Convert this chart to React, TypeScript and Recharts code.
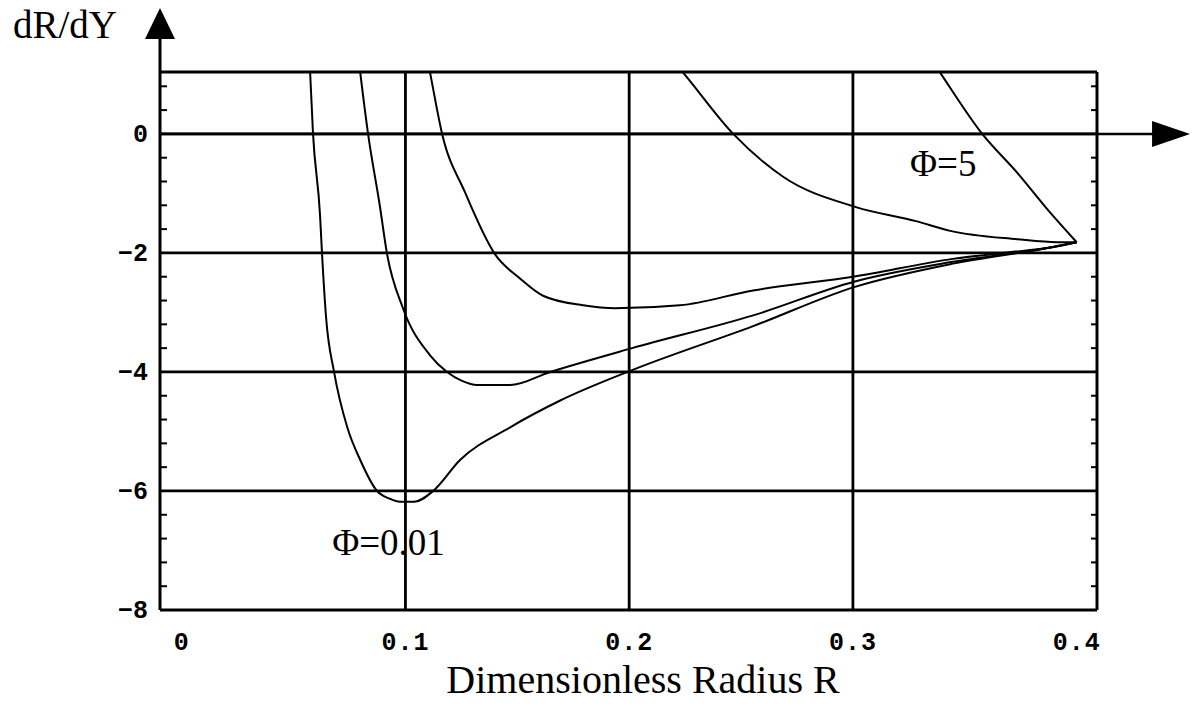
import React from 'react'
import { LineChart, Line, XAxis, YAxis, CartesianGrid, ReferenceLine, ReferenceDot } from 'recharts'

type Pt = { x: number; y: number }

// axis setup
const xDomain: [number, number] = [-0.0097, 0.4091]
const yDomain: [number, number] = [-8, 1.04]
const xTicks = [0, 0.1, 0.2, 0.3, 0.4]
const yTicks = [-8, -6, -4, -2, 0]
const xGridLines = [0.1, 0.2, 0.3]
const yGridLines = [-6, -4, -2, 0]
const xMinorTicks = [0, 0.02, 0.04, 0.06, 0.08, 0.1, 0.12, 0.14, 0.16, 0.18, 0.2, 0.22, 0.24, 0.26, 0.28, 0.3, 0.32, 0.34, 0.36, 0.38, 0.4]
const yMinorTicks = [-8, -7.6, -7.2, -6.8, -6.4, -6, -5.6, -5.2, -4.8, -4.4, -4, -3.6, -3.2, -2.8, -2.4, -2, -1.6, -1.2, -0.8, -0.4, 0, 0.4, 0.8]

// curves, left to right (Φ=0.01 is the deepest one)
const curvePhi001: Pt[] = [
  { x: 0.0565, y: 1.6 }, { x: 0.0574, y: 1.03 }, { x: 0.0587, y: 0 }, { x: 0.0618, y: -1.35 },
  { x: 0.0627, y: -2 }, { x: 0.0645, y: -3.07 }, { x: 0.0681, y: -4 }, { x: 0.074, y: -4.93 },
  { x: 0.0798, y: -5.48 }, { x: 0.0873, y: -6 }, { x: 0.093, y: -6.13 }, { x: 0.0975, y: -6.18 },
  { x: 0.104, y: -6.18 }, { x: 0.1124, y: -6 }, { x: 0.1244, y: -5.48 }, { x: 0.1468, y: -4.93 },
  { x: 0.1692, y: -4.48 }, { x: 0.2013, y: -3.97 }, { x: 0.2554, y: -3.23 }, { x: 0.3009, y: -2.57 },
  { x: 0.3447, y: -2.18 }, { x: 0.3895, y: -1.9 }, { x: 0.4, y: -1.82 },
]
const curveB: Pt[] = [
  { x: 0.078, y: 1.6 }, { x: 0.0798, y: 1.03 }, { x: 0.0833, y: 0 }, { x: 0.0886, y: -1.22 },
  { x: 0.0917, y: -2 }, { x: 0.0989, y: -2.93 }, { x: 0.111, y: -3.72 }, { x: 0.1186, y: -4 },
  { x: 0.1253, y: -4.15 }, { x: 0.132, y: -4.22 }, { x: 0.1468, y: -4.22 }, { x: 0.1647, y: -4 },
  { x: 0.2013, y: -3.6 }, { x: 0.2554, y: -3.05 }, { x: 0.3009, y: -2.48 }, { x: 0.3447, y: -2.15 },
  { x: 0.3895, y: -1.9 }, { x: 0.4, y: -1.82 },
]
const curveC: Pt[] = [
  { x: 0.108, y: 1.6 }, { x: 0.111, y: 1.03 }, { x: 0.1164, y: 0 }, { x: 0.1266, y: -0.98 },
  { x: 0.14, y: -2.02 }, { x: 0.1512, y: -2.43 }, { x: 0.1615, y: -2.72 }, { x: 0.1794, y: -2.88 },
  { x: 0.1937, y: -2.93 }, { x: 0.2227, y: -2.88 }, { x: 0.2554, y: -2.63 }, { x: 0.3001, y: -2.4 },
  { x: 0.3447, y: -2.1 }, { x: 0.3747, y: -1.97 }, { x: 0.3895, y: -1.9 }, { x: 0.4, y: -1.82 },
]
const curveD: Pt[] = [
  { x: 0.211, y: 1.6 }, { x: 0.2241, y: 1.03 }, { x: 0.2465, y: 0 },
  { x: 0.2688, y: -0.72 }, { x: 0.3014, y: -1.23 }, { x: 0.3287, y: -1.47 }, { x: 0.3435, y: -1.63 },
  { x: 0.3734, y: -1.77 }, { x: 0.3913, y: -1.82 }, { x: 0.4, y: -1.82 },
]
const curvePhi5: Pt[] = [
  { x: 0.329, y: 1.6 }, { x: 0.339, y: 1.03 }, { x: 0.3578, y: 0 }, { x: 0.3734, y: -0.65 },
  { x: 0.3881, y: -1.32 }, { x: 0.4, y: -1.82 },
]
const curves = [curvePhi001, curveB, curveC, curveD, curvePhi5]

const serif = '"Liberation Serif", "Times New Roman", serif'
const mono = '"Liberation Mono", "DejaVu Sans Mono", monospace'
const fmtY = (v: number) => (v < 0 ? '\u2212' + Math.abs(v) : String(v))
const noLabel = () => <g />
const frameLine = { stroke: '#000', strokeWidth: 3 }
const minorTick = { stroke: '#000', strokeWidth: 2 }

const XTick = (p: any) => (
  <text x={p.x} y={p.y + 15} textAnchor="middle" fontFamily={mono} fontWeight={700} fontSize={25}
    letterSpacing={1} fill="#000">{String(p.payload.value)}</text>
)
const YTick = (p: any) => (
  <text x={p.x} y={p.y + 8} textAnchor="end" fontFamily={mono} fontWeight={700} fontSize={25}
    fill="#000">{fmtY(p.payload.value)}</text>
)

const ArrowRight = (p: any) => {
  const { x1, y1, x2, y2 } = p
  return (
    <g>
      <line x1={x1} y1={y1} x2={x2 - 30} y2={y2} stroke="#000" strokeWidth={2.5} />
      <polygon points={`${x2},${y2} ${x2 - 38},${y2 - 13} ${x2 - 38},${y2 + 13}`} fill="#000" />
    </g>
  )
}
const ArrowUp = (p: any) => {
  const { x1, y1, x2, y2 } = p
  return (
    <g>
      <line x1={x1} y1={y1} x2={x2} y2={y2 + 25} stroke="#000" strokeWidth={3} />
      <polygon points={`${x2},${y2} ${x2 - 15},${y2 + 31} ${x2 + 15},${y2 + 31}`} fill="#000" />
    </g>
  )
}

export default function App() {
  return (
    <div style={{ position: 'absolute', left: 0, top: 0, width: 1192, height: 724, background: '#fff' }}>
      <LineChart width={1192} height={724} margin={{ top: 72, right: 95, bottom: 0, left: 100 }}>
        <CartesianGrid stroke="#000" strokeWidth={2.8} horizontalValues={yGridLines} verticalValues={xGridLines} />
        <XAxis dataKey="x" type="number" domain={xDomain} allowDataOverflow ticks={xTicks} interval={0}
          tickLine={false} axisLine={false} height={114} tickMargin={19} tick={XTick} />
        <YAxis type="number" domain={yDomain} allowDataOverflow ticks={yTicks} interval={0}
          tickLine={false} axisLine={false} width={60} tickMargin={6} tick={YTick} />
        {/* frame with inward minor ticks */}
        <XAxis xAxisId="bt" type="number" orientation="bottom" mirror domain={xDomain} allowDataOverflow
          ticks={xMinorTicks} interval={0} tick={noLabel} tickSize={6} height={10}
          axisLine={frameLine} tickLine={minorTick} />
        <XAxis xAxisId="tp" type="number" orientation="top" mirror domain={xDomain} allowDataOverflow
          ticks={xMinorTicks} interval={0} tick={noLabel} tickSize={6} height={10}
          axisLine={frameLine} tickLine={minorTick} />
        <YAxis yAxisId="lm" type="number" orientation="left" mirror domain={yDomain} allowDataOverflow
          ticks={yMinorTicks} interval={0} tick={noLabel} tickSize={7} width={10}
          axisLine={frameLine} tickLine={minorTick} />
        <YAxis yAxisId="rm" type="number" orientation="right" mirror domain={yDomain} allowDataOverflow
          ticks={yMinorTicks} interval={0} tick={noLabel} tickSize={6} width={10}
          axisLine={frameLine} tickLine={minorTick} />
        {curves.map((c, i) => (
          <Line key={i} data={c} dataKey="y" type="monotone" stroke="#000" strokeWidth={2}
            dot={false} activeDot={false} isAnimationActive={false} />
        ))}
        <ReferenceLine segment={[{ x: xDomain[0], y: 0 }, { x: 0.4507, y: 0 }]} ifOverflow="visible" shape={ArrowRight} />
        <ReferenceLine segment={[{ x: xDomain[0], y: yDomain[1] }, { x: xDomain[0], y: 2.115 }]} ifOverflow="visible" shape={ArrowUp} />
        <ReferenceDot x={0.3233} y={-0.49} r={0} stroke="none"
          label={{ value: '\u03A6=5', position: 'right', fontSize: 37, fontFamily: serif, fill: '#000' }} />
        <ReferenceDot x={0.065} y={-6.86} r={0} stroke="none"
          label={{ value: '\u03A6=0.01', position: 'right', fontSize: 37, fontFamily: serif, fill: '#000' }} />
      </LineChart>
      <svg width={1192} height={724} style={{ position: 'absolute', left: 0, top: 0, pointerEvents: 'none' }}>
        <text x={13} y={38} fontSize={39} fontFamily={serif} fill="#000">dR/dY</text>
        <text x={643} y={693} fontSize={40} fontFamily={serif} fill="#000" textAnchor="middle">Dimensionless Radius R</text>
      </svg>
    </div>
  )
}
